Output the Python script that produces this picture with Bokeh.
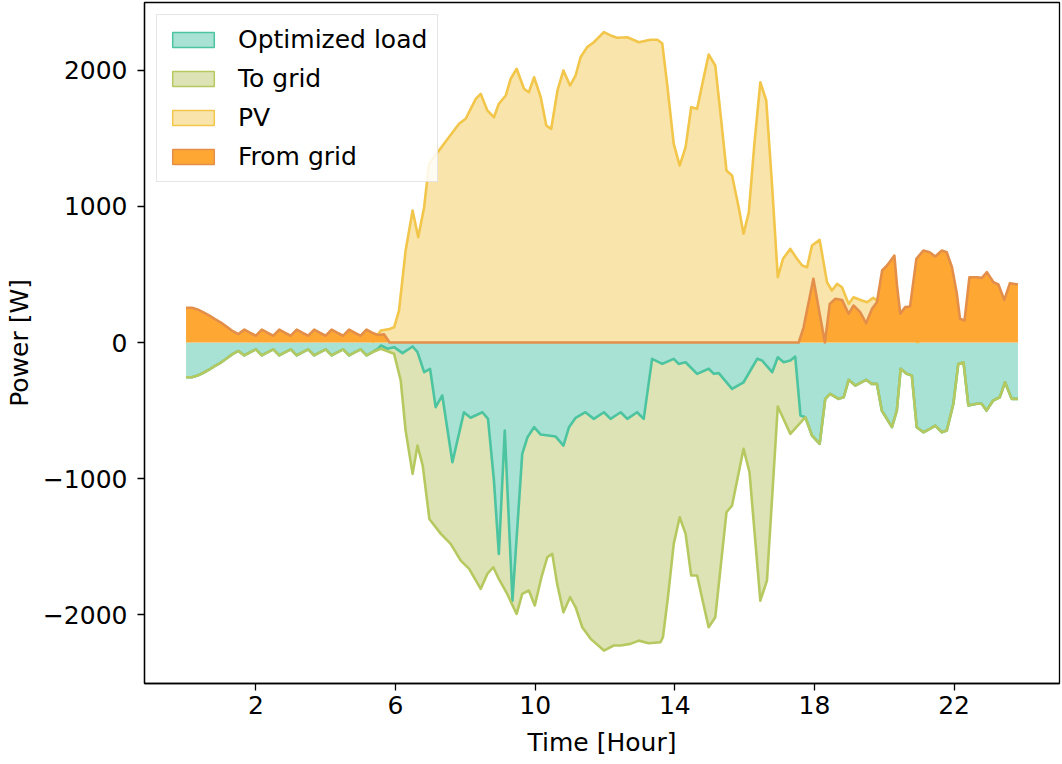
import numpy as np
from bokeh.plotting import figure
from bokeh.models import Range1d, FixedTicker, Legend, LegendItem
from bokeh.embed import file_html
from bokeh.resources import INLINE

# ---------------- data (hours, watts) ----------------
# night: load equals import from grid (no PV)
night_t = [0, 0.17, 0.33, 0.5, 0.67, 0.83, 1.0, 1.17, 1.33, 1.5, 1.67, 1.83, 2.0, 2.17, 2.33, 2.5,
           2.67, 2.83, 3.0, 3.17, 3.33, 3.5, 3.67, 3.83, 4.0, 4.17, 4.33, 4.5, 4.67, 4.83, 5.0, 5.17, 5.33]
night_w = [255, 255, 243, 222, 198, 172, 147, 115, 85, 62, 95, 72, 50, 95, 72, 50,
           95, 72, 50, 95, 72, 50, 95, 72, 50, 95, 72, 50, 95, 72, 50, 95, 72]

# From grid after the night part
from_grid_t = [5.5, 5.67, 5.83, 17.55, 17.69, 17.97, 18.15, 18.3, 18.44, 18.6, 18.79, 18.98,
               19.12, 19.31, 19.48, 19.65, 19.79, 19.94, 20.08, 20.29, 20.37, 20.46, 20.6, 20.74, 20.92,
               21.12, 21.3, 21.46, 21.65, 21.79, 21.94, 22.08, 22.17, 22.3, 22.44, 22.65, 22.8, 22.94,
               23.13, 23.27, 23.44, 23.6, 23.83]
from_grid_w = [55, 60, 0, 0, 112, 468, 211, 0, 284, 321, 313, 211,
               272, 223, 142, 248, 296, 529, 566, 639, 406, 211, 260, 265, 615,
               676, 663, 632, 676, 663, 553, 358, 174, 162, 480, 480, 475, 517,
               443, 426, 313, 436, 426]

# PV production
pv_t = [5.33, 5.5, 5.58, 5.83, 5.96, 6.1, 6.29, 6.49, 6.65, 6.82,
        6.96, 7.39, 7.82, 8.01, 8.3, 8.44, 8.63, 8.82, 8.96, 9.16,
        9.3, 9.47, 9.68, 9.82, 9.97, 10.16, 10.32, 10.46, 10.64, 10.81,
        11.0, 11.16, 11.3, 11.49, 11.68, 11.97, 12.16, 12.35, 12.64, 12.97,
        13.3, 13.5, 13.64, 13.78, 13.97, 14.14, 14.31, 14.47, 14.64, 14.81,
        14.97, 15.16, 15.31, 15.48, 15.64, 15.83, 15.97, 16.12, 16.28, 16.45,
        16.62, 16.79, 16.95, 17.1, 17.31, 17.5, 17.65, 17.79, 17.93, 18.15,
        18.36, 18.5, 18.65, 18.79, 18.98, 19.12, 19.36, 19.51, 19.68, 19.85,
        20.0, 20.3, 20.6, 21.0]
pv_w = [0, 60, 88, 100, 112, 235, 676, 970, 774, 994,
        1313, 1460, 1607, 1644, 1790, 1827, 1705, 1655, 1754, 1815,
        1938, 2011, 1864, 1839, 1949, 1802, 1594, 1570, 1852, 1999,
        1888, 1962, 2096, 2170, 2206, 2280, 2256, 2239, 2243, 2206,
        2224, 2224, 2199, 1900, 1460, 1300, 1435, 1729, 1717, 1925,
        2116, 2035, 1680, 1264, 1227, 994, 799, 957, 1460, 1912,
        1778, 1141, 480, 615, 688, 615, 566, 553, 713, 754,
        443, 382, 431, 406, 284, 333, 309, 296, 328, 300,
        250, 120, 40, 0]

# Optimized load (daytime part)
load_day_t = [5.5, 5.58, 5.77, 5.96, 6.2, 6.49, 6.63, 6.82, 6.99, 7.15,
              7.34, 7.63, 7.96, 8.15, 8.49, 8.65, 8.82, 8.96, 9.13, 9.35,
              9.63, 9.78, 9.97, 10.16, 10.59, 10.81, 10.97, 11.16, 11.44, 11.68,
              11.97, 12.16, 12.45, 12.64, 12.92, 13.11, 13.35, 13.64, 13.97, 14.11,
              14.31, 14.64, 14.97, 15.12, 15.26, 15.64, 15.97, 16.36, 16.5, 16.79,
              16.95, 17.12, 17.31, 17.45, 17.6]
load_day_w = [45, 22, 46, 34, 78, 29, 71, 218, 193, 475,
              389, 880, 512, 553, 512, 561, 1014, 1553, 647, 1896,
              818, 696, 622, 676, 691, 757, 622, 553, 512, 561,
              512, 561, 512, 561, 512, 561, 120, 157, 120, 157,
              145, 230, 193, 230, 225, 340, 292, 120, 132, 218,
              108, 145, 132, 103, 536]

# lower edge of the "To grid" band (load + export), daytime part
to_grid_day_t = [5.58, 5.96, 6.15, 6.29, 6.49, 6.63, 6.78, 6.97, 7.3, 7.58,
                 7.87, 8.11, 8.44, 8.63, 8.8, 8.96, 9.2, 9.47, 9.63, 9.82,
                 9.99, 10.18, 10.35, 10.49, 10.63, 10.81, 11.0, 11.16, 11.35, 11.59,
                 11.97, 12.25, 12.45, 12.73, 12.97, 13.25, 13.59, 13.66, 13.8, 13.97,
                 14.14, 14.31, 14.47, 14.64, 14.81, 14.97, 15.16, 15.48, 15.64, 15.97,
                 16.14, 16.45, 16.64, 16.95, 17.31]
to_grid_day_w = [46, 83, 279, 647, 965, 757, 904, 1296, 1406, 1479,
                 1602, 1663, 1810, 1700, 1651, 1736, 1847, 1994, 1847, 1822,
                 1932, 1724, 1577, 1553, 1773, 1982, 1871, 1945, 2092, 2177,
                 2263, 2226, 2226, 2214, 2190, 2209, 2202, 2165, 1880, 1479,
                 1284, 1406, 1712, 1712, 1910, 2092, 2018, 1247, 1198, 781,
                 953, 1896, 1749, 470, 671]

# evening: load with no export (both edges coincide)
evening_t = [17.74, 17.93, 18.15, 18.31, 18.45, 18.69, 18.84, 18.98, 19.17, 19.48,
             19.64, 19.79, 19.93, 20.22, 20.36, 20.47, 20.64, 20.79, 20.93, 21.12,
             21.31, 21.46, 21.65, 21.79, 21.98, 22.12, 22.27, 22.41, 22.65, 22.79,
             22.93, 23.12, 23.31, 23.46, 23.65, 23.83]
evening_w = [549, 683, 744, 414, 377, 414, 402, 274, 316, 274,
             304, 304, 500, 622, 500, 193, 230, 242, 622, 659,
             634, 610, 659, 647, 450, 157, 145, 463, 450, 450,
             500, 426, 402, 292, 414, 414]

x_ticks = [2, 6, 10, 14, 18, 22]
y_ticks = [-2000, -1000, 0, 1000, 2000]
y_tick_labels = {-2000: "\u22122000", -1000: "\u22121000", 0: "0", 1000: "1000", 2000: "2000"}

labels = ["Optimized load", "To grid", "PV", "From grid"]
fill_colors = ["#a8e2d4", "#dde3b4", "#f9e4ab", "#ffa733"]
line_colors = ["#4cc4a0", "#b6c960", "#f2c64b", "#e38f4a"]

# ---------------- build series ----------------
fg_t = np.array(night_t + from_grid_t)
fg_w = np.array(night_w + from_grid_w, dtype=float)
pv_tt = np.array(pv_t)
pv_ww = np.array(pv_w, dtype=float)
ld_t = np.array(night_t + load_day_t + evening_t)
ld_w = -np.array(night_w + load_day_w + evening_w, dtype=float)
tg_t = np.array(night_t + to_grid_day_t + evening_t)
tg_w = -np.array(night_w + to_grid_day_w + evening_w, dtype=float)

FONT = "DejaVu Sans"
FS = "25px"

p = figure(width=1062, height=764,
           x_range=Range1d(-1.19, 25.02), y_range=Range1d(-2505, 2498),
           output_backend="svg", toolbar_location=None,
           min_border_left=144, min_border_right=3, min_border_top=2, min_border_bottom=81,
           background_fill_color="white", border_fill_color="white")

p.xgrid.visible = False
p.ygrid.visible = False
p.outline_line_color = "black"
p.outline_line_width = 1.3

def area(t, w):
    return list(t) + [t[-1], t[0]], list(w) + [0.0, 0.0]

# negative side
x, y = area(ld_t, ld_w)
p.patch(x, y, fill_color=fill_colors[0], line_alpha=0)
band_x = list(tg_t) + list(ld_t[::-1])
band_y = list(tg_w) + list(ld_w[::-1])
p.patch(band_x, band_y, fill_color=fill_colors[1], line_alpha=0)
p.line(ld_t, ld_w, line_color=line_colors[0], line_width=2.6, line_join="round")
p.line(tg_t, tg_w, line_color=line_colors[1], line_width=2.6, line_join="round")

# positive side
x, y = area(pv_tt, pv_ww)
p.patch(x, y, fill_color=fill_colors[2], line_alpha=0)
p.line(pv_tt, pv_ww, line_color=line_colors[2], line_width=2.6, line_join="round")
x, y = area(fg_t, fg_w)
p.patch(x, y, fill_color=fill_colors[3], line_alpha=0)
p.line(fg_t, fg_w, line_color=line_colors[3], line_width=2.6, line_join="round")

# legend proxies (not drawn in the plot area: NaN geometry)
items = []
for lab, fc, lc in zip(labels, fill_colors, line_colors):
    r = p.patch(x=[np.nan], y=[np.nan], fill_color=fc, line_color=lc, line_width=1.5)
    items.append(LegendItem(label=lab, renderers=[r]))
legend = Legend(items=items, location="top_left")
legend.margin = 12
legend.padding = 10
legend.spacing = 10
legend.glyph_width = 52
legend.glyph_height = 19
legend.label_standoff = 19
legend.label_text_font = FONT
legend.label_text_font_size = FS
legend.label_text_color = "black"
legend.label_text_baseline = "middle"
legend.border_line_color = "#cccccc"
legend.border_line_width = 1.5
legend.background_fill_alpha = 0.85
p.add_layout(legend)

# axes
for ax in (p.xaxis, p.yaxis):
    ax.axis_line_color = "black"
    ax.axis_line_width = 1.3
    ax.major_tick_line_width = 1.3
    ax.major_tick_out = 7
    ax.major_tick_in = 0
    ax.minor_tick_line_color = None
    ax.major_label_text_font = FONT
    ax.major_label_text_font_size = FS
    ax.major_label_text_color = "black"
    ax.axis_label_text_font = FONT
    ax.axis_label_text_font_size = FS
    ax.axis_label_text_font_style = "normal"
    ax.axis_label_text_color = "black"

p.xaxis.ticker = FixedTicker(ticks=x_ticks)
p.yaxis.ticker = FixedTicker(ticks=y_ticks)
p.yaxis.major_label_overrides = y_tick_labels
p.xaxis.axis_label = "Time [Hour]"
p.yaxis.axis_label = "Power [W]"
p.xaxis.major_label_standoff = 5
p.yaxis.major_label_standoff = 10
p.xaxis.axis_label_standoff = 11
p.yaxis.axis_label_standoff = 6

open("out.html", "w").write(file_html(p, INLINE))
